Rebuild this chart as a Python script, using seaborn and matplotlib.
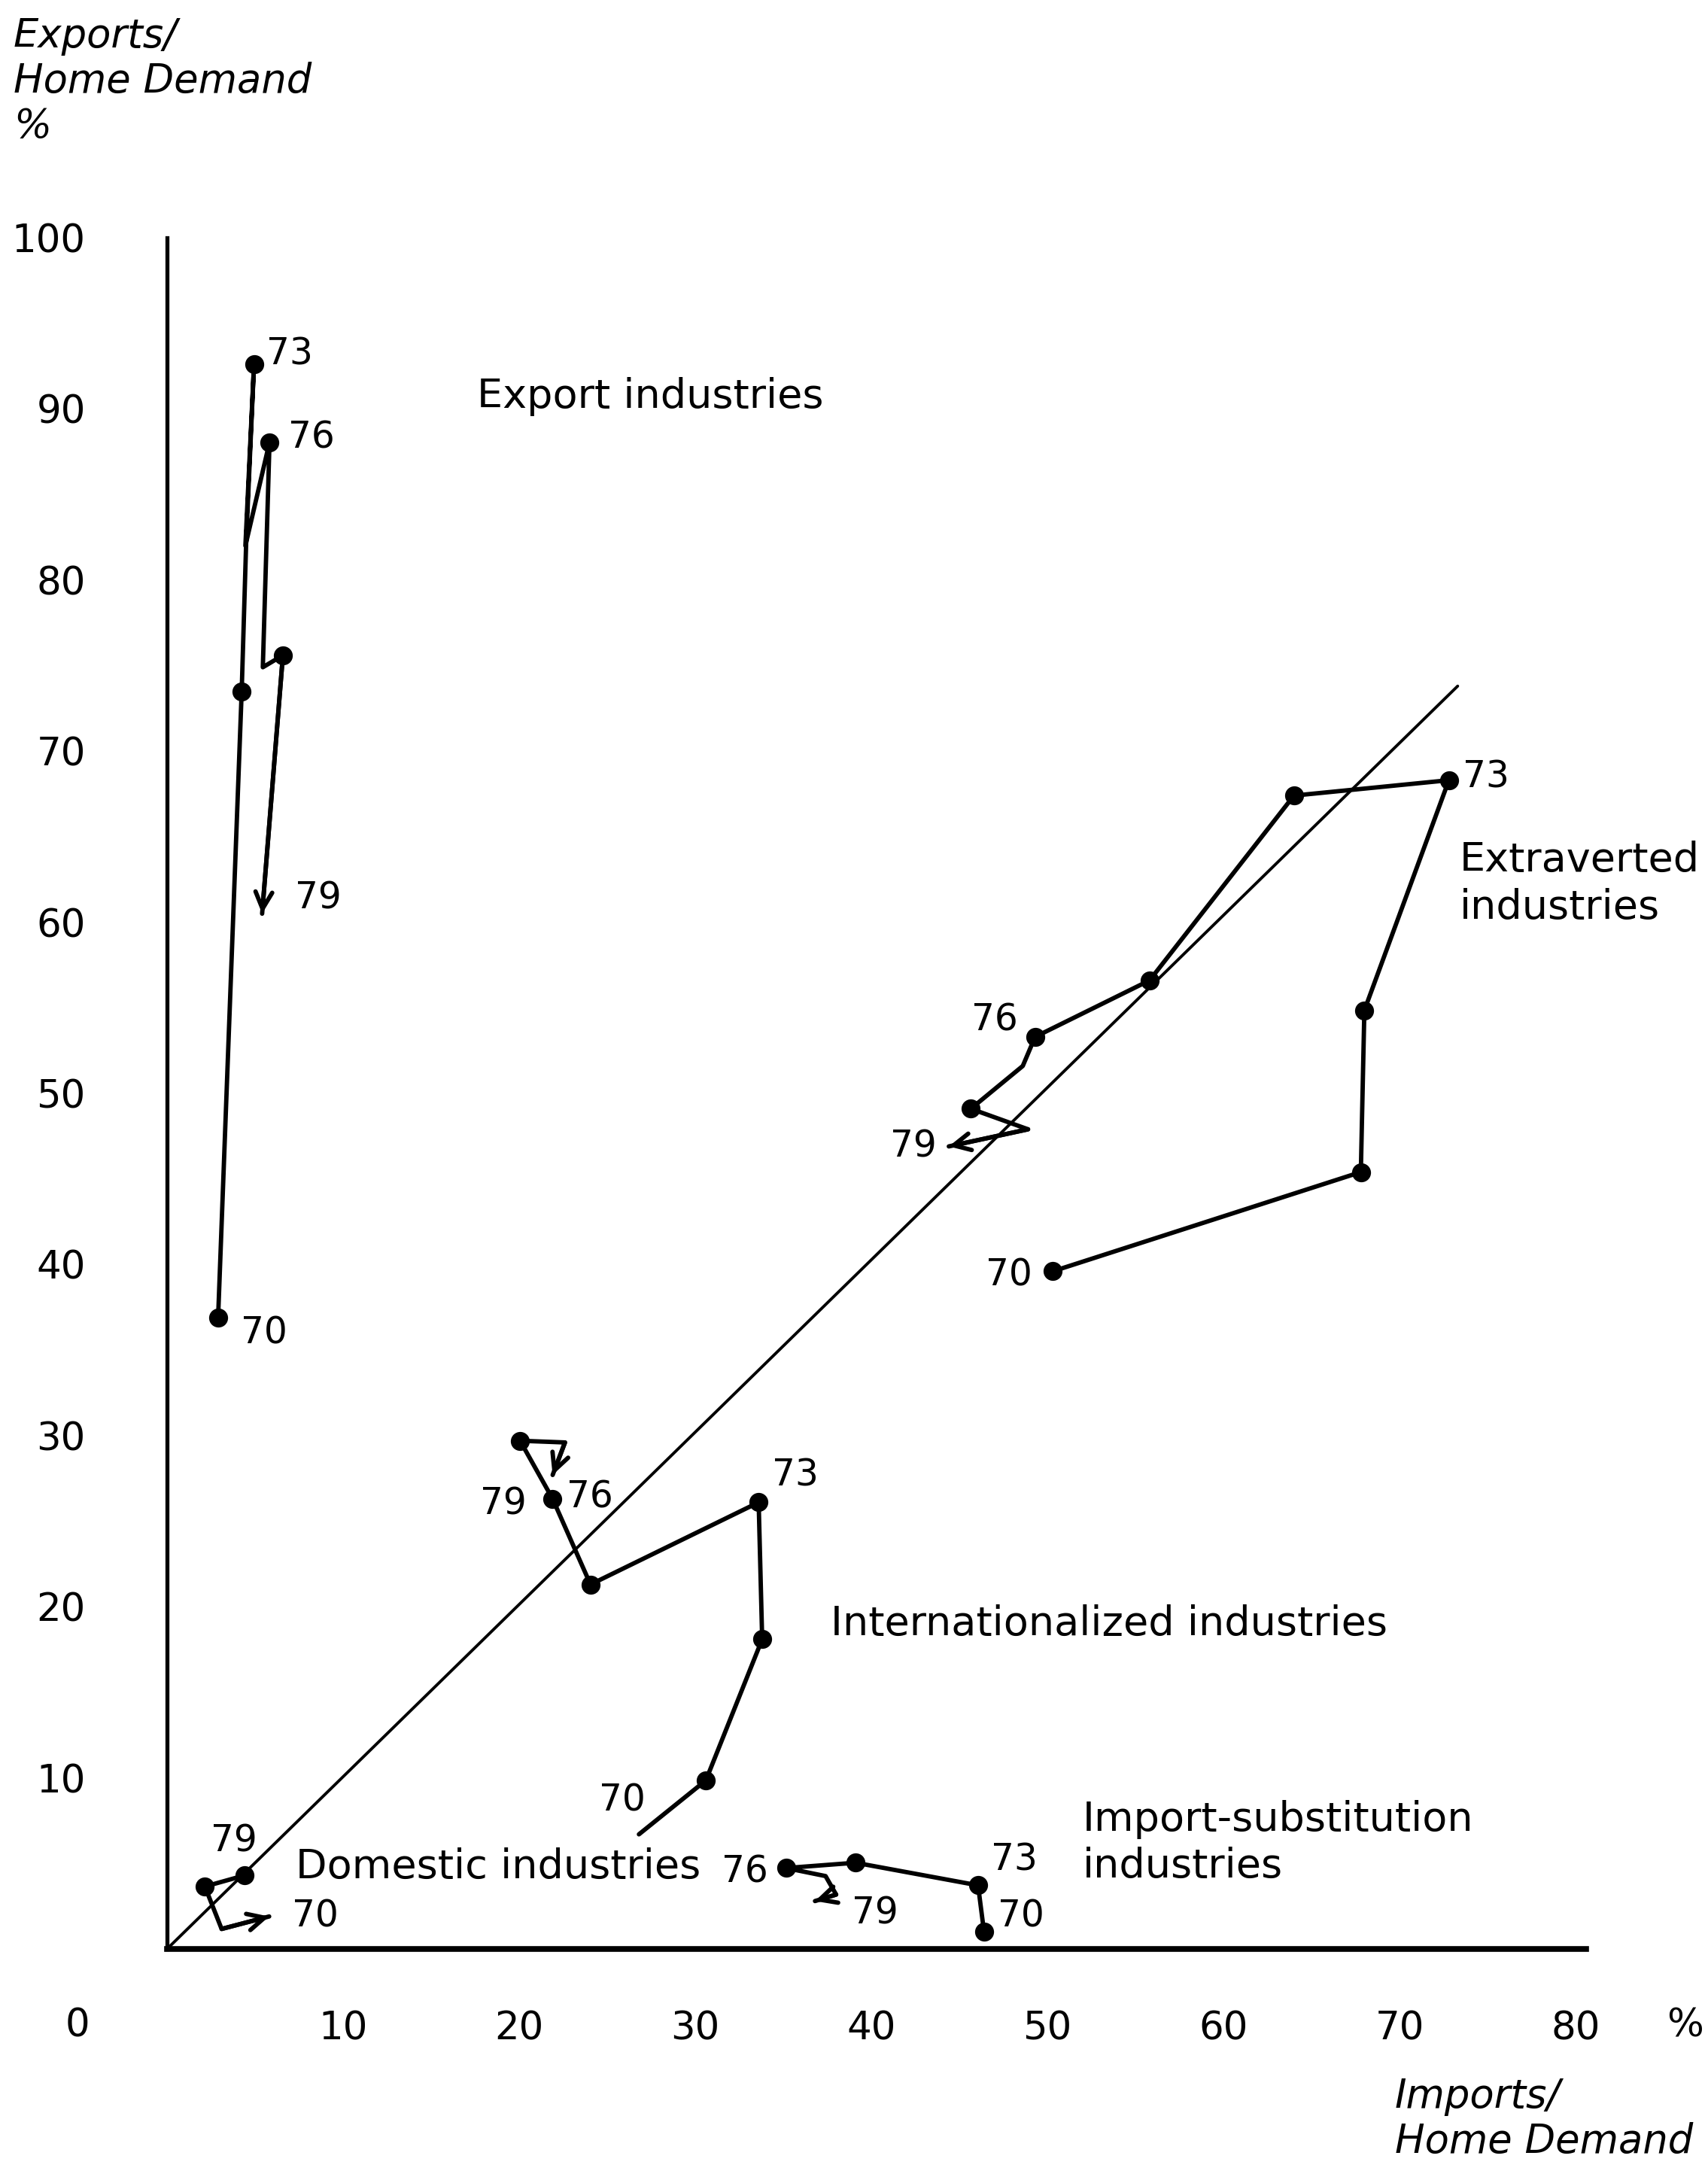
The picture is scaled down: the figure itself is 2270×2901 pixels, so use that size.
import matplotlib
matplotlib.use("Agg")
import matplotlib.pyplot as plt
import pandas as pd
import seaborn as sns

# ---------------- data (imports/home demand %, exports/home demand %) ----------------
export_x = [2.9, 4.24, 4.5, 4.94, 4.45, 5.82, 5.44, 6.58, 5.4]
export_y = [36.9, 73.5, 82.4, 92.6, 82.0, 88.05, 74.9, 75.6, 60.5]
export_dot = [1, 1, 0, 1, 0, 1, 0, 1, 0]

extra_x = [50.3, 67.8, 68.0, 72.8, 64.0, 55.8, 49.3, 48.6, 45.65, 48.9, 44.4]
extra_y = [39.6, 45.4, 54.85, 68.3, 67.4, 56.6, 53.3, 51.6, 49.1, 47.9, 46.9]
extra_dot = [1, 1, 1, 1, 1, 1, 1, 0, 1, 0, 0]

intl_x = [26.8, 30.6, 33.8, 33.6, 24.05, 21.9, 20.05, 22.6, 21.9]
intl_y = [6.7, 9.85, 18.1, 26.1, 21.3, 26.3, 29.7, 29.6, 27.7]
intl_dot = [0, 1, 1, 1, 1, 1, 1, 0, 0]

dom_x = [4.4, 2.15, 3.1, 5.8]
dom_y = [4.3, 3.65, 1.17, 1.9]
dom_dot = [1, 1, 0, 0]

imp_x = [46.4, 46.06, 39.1, 35.15, 37.4, 38.0, 36.8]
imp_y = [1.0, 3.72, 5.04, 4.73, 4.26, 3.18, 2.8]
imp_dot = [1, 1, 1, 1, 0, 0, 0]

diag_x = [0, 73.3]
diag_y = [0, 73.8]

# year labels
export_lab = ["73", "76", "79", "70"]
export_lab_x = [6.96, 8.2, 8.6, 5.5]
export_lab_y = [93.2, 88.3, 61.4, 36.0]
extra_lab = ["73", "76", "79", "70"]
extra_lab_x = [74.9, 47.0, 42.4, 47.8]
extra_lab_y = [68.5, 54.3, 46.9, 39.4]
intl_lab = ["79", "76", "73", "70"]
intl_lab_x = [19.1, 24.0, 35.7, 25.85]
intl_lab_y = [26.0, 26.4, 27.7, 8.7]
dom_lab = ["79", "70"]
dom_lab_x = [3.8, 8.4]
dom_lab_y = [6.3, 1.9]
imp_lab = ["76", "73", "79", "70"]
imp_lab_x = [32.8, 48.1, 40.2, 48.5]
imp_lab_y = [4.5, 5.2, 2.1, 1.9]

# region titles
region_text = ["Export industries", "Extraverted\nindustries", "Internationalized industries",
               "Domestic industries", "Import-substitution\nindustries"]
region_x = [17.6, 73.4, 37.7, 7.3, 52.0]
region_y = [90.7, 62.25, 19.0, 4.8, 6.2]

x_ticks = [10, 20, 30, 40, 50, 60, 70, 80]
y_ticks = [10, 20, 30, 40, 50, 60, 70, 80, 90, 100]

# ---------------- figure ----------------
sns.set_style("white")
plt.rcParams["font.family"] = ["DejaVu Sans"]
plt.rcParams["text.color"] = "black"
plt.rcParams["xtick.color"] = "black"
plt.rcParams["ytick.color"] = "black"
plt.rcParams["axes.labelcolor"] = "black"

fig = plt.figure(figsize=(22.7, 29.01), dpi=100)
ax = fig.add_axes([0.0978, 0.1072, 0.8309, 0.7839])

groups = [
    (export_x, export_y, export_dot),
    (extra_x, extra_y, extra_dot),
    (intl_x, intl_y, intl_dot),
    (dom_x, dom_y, dom_dot),
    (imp_x, imp_y, imp_dot),
]

# diagonal
sns.lineplot(x=diag_x, y=diag_y, sort=False, color="black", lw=2.8, ax=ax)

for gx, gy, gd in groups:
    df = pd.DataFrame({"x": gx, "y": gy, "dot": gd})
    sns.lineplot(data=df, x="x", y="y", sort=False, estimator=None, color="black", lw=4.2, ax=ax)
    dots = df[df["dot"] == 1]
    sns.scatterplot(data=dots, x="x", y="y", color="black", s=330, edgecolor="black",
                    linewidth=0, ax=ax, zorder=5)

# arrowheads at the 1979 ends
for gx, gy, gd in groups:
    ax.annotate("", xy=(gx[-1], gy[-1]), xytext=(gx[-2], gy[-2]),
                arrowprops=dict(arrowstyle="->", color="black", lw=4.2,
                                mutation_scale=40, shrinkA=0, shrinkB=0))

for labs, lx, ly in [(export_lab, export_lab_x, export_lab_y),
                     (extra_lab, extra_lab_x, extra_lab_y),
                     (intl_lab, intl_lab_x, intl_lab_y),
                     (dom_lab, dom_lab_x, dom_lab_y),
                     (imp_lab, imp_lab_x, imp_lab_y)]:
    for t, x, y in zip(labs, lx, ly):
        ax.text(x, y, t, ha="center", va="center", fontsize=35, color="black")

for t, x, y in zip(region_text, region_x, region_y):
    ax.text(x, y, t, ha="left", va="center", fontsize=39, color="black", linespacing=1.25)

ax.set_xlim(0, 80.6)
ax.set_ylim(0, 100)
ax.set_xticks(x_ticks)
ax.set_yticks(y_ticks)
ax.set_xticklabels([str(v) for v in x_ticks], fontsize=37, color="black")
ax.set_yticklabels([str(v) for v in y_ticks], fontsize=37, color="black")
ax.tick_params(axis="x", direction="out", length=24, width=3, pad=35, color="black")
ax.tick_params(axis="y", direction="out", length=14, width=3, pad=64, color="black")
ax.yaxis.get_major_ticks()[-1].tick1line.set_visible(False)
ax.set_xlabel("")
ax.set_ylabel("")

for side in ["top", "right"]:
    ax.spines[side].set_visible(False)
ax.spines["bottom"].set_linewidth(5.5)
ax.spines["left"].set_linewidth(3.8)
ax.spines["bottom"].set_color("black")
ax.spines["left"].set_color("black")

# stray axis texts
ax.text(-5.1, -4.5, "0", ha="center", va="center", fontsize=37, clip_on=False, color="black")
ax.text(86.2, -4.5, "%", ha="center", va="center", fontsize=37, clip_on=False, color="black")

fig.text(18 / 2270, 1 - 22 / 2901, "Exports/\nHome Demand\n%", ha="left", va="top",
         fontsize=38, style="italic", linespacing=1.2, color="black")
fig.text(1854 / 2270, 1 - 2760 / 2901, "Imports/\nHome Demand", ha="left", va="top",
         fontsize=38, style="italic", linespacing=1.2, color="black")

fig.savefig("out.png", dpi=100, facecolor="white")
